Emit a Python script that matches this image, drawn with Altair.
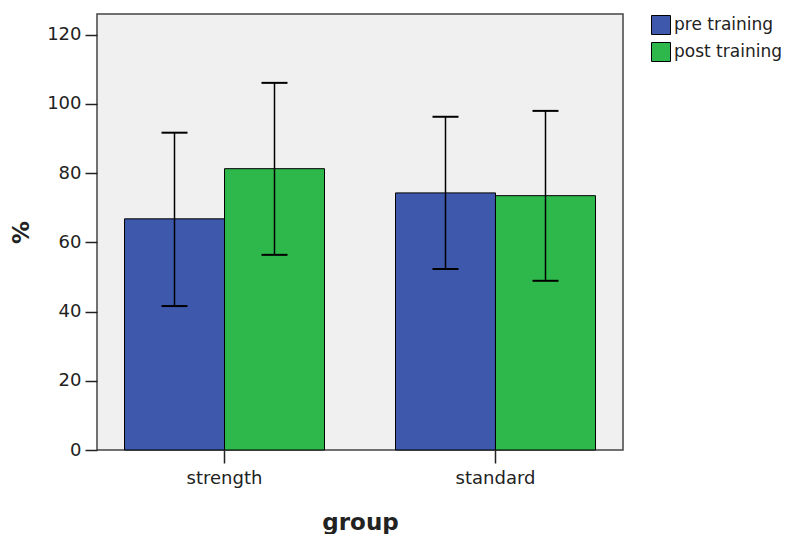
import altair as alt
import pandas as pd

groups = ["strength", "strength", "standard", "standard"]
series = ["pre training", "post training", "pre training", "post training"]
means = [66.8, 81.3, 74.3, 73.5]
lower = [41.6, 56.4, 52.3, 48.9]
upper = [91.7, 106.1, 96.3, 98.0]

group_order = ["strength", "standard"]
series_order = ["pre training", "post training"]
colors = ["#3e58ac", "#2eb84b"]

df = pd.DataFrame({"group": groups, "series": series, "mean": means,
                   "lower": lower, "upper": upper})

FONT = "DejaVu Sans"

x_enc = alt.X("group:N", sort=group_order,
              scale=alt.Scale(paddingInner=0.262, paddingOuter=0.1015),
              axis=alt.Axis(title="group", labelAngle=0, tickSize=13, labelPadding=6,
                            labelFontSize=18, labelFont=FONT, labelColor="#222",
                            titleFont=FONT, titleFontSize=23, titleFontWeight="bold",
                            titleColor="#222", titleY=79, titleBaseline="alphabetic",
                            domain=False, tickColor="#222", tickWidth=1.5))
xo_enc = alt.XOffset("series:N", sort=series_order,
                     scale=alt.Scale(paddingInner=0, paddingOuter=0))

y_scale = alt.Scale(domain=[0, 126], nice=False)

bars = alt.Chart(df).mark_bar(stroke="black", strokeWidth=1).encode(
    x=x_enc,
    xOffset=xo_enc,
    y=alt.Y("mean:Q", scale=y_scale,
            axis=alt.Axis(title="%", values=[0, 20, 40, 60, 80, 100, 120], grid=False,
                          tickSize=12, labelPadding=4, labelFontSize=18, labelFont=FONT,
                          labelColor="#222", titleFont=FONT, titleFontSize=23,
                          titleFontWeight="bold", titleColor="#222", titleX=-76,
                          titleY=218, titleAngle=-90, titleAlign="center",
                          titleBaseline="middle", domain=False, tickColor="#222",
                          tickWidth=1.5)),
    color=alt.Color("series:N", sort=series_order,
                    scale=alt.Scale(domain=series_order, range=colors),
                    legend=alt.Legend(title=None, orient="none", legendX=554, legendY=1,
                                      symbolType="square", symbolSize=361,
                                      symbolStrokeColor="black", symbolStrokeWidth=1,
                                      symbolOpacity=1, labelFont=FONT, labelFontSize=17,
                                      labelColor="#222", labelOffset=3, rowPadding=3)),
)

rules = alt.Chart(df).mark_rule(color="black", strokeWidth=1.5).encode(
    x=alt.X("group:N", sort=group_order), xOffset=alt.XOffset("series:N", sort=series_order),
    y=alt.Y("lower:Q", scale=y_scale), y2="upper:Q")

cap_lo = alt.Chart(df).mark_tick(color="black", size=26, thickness=2, opacity=1).encode(
    x=alt.X("group:N", sort=group_order), xOffset=alt.XOffset("series:N", sort=series_order),
    y=alt.Y("lower:Q", scale=y_scale))
cap_hi = alt.Chart(df).mark_tick(color="black", size=26, thickness=2, opacity=1).encode(
    x=alt.X("group:N", sort=group_order), xOffset=alt.XOffset("series:N", sort=series_order),
    y=alt.Y("upper:Q", scale=y_scale))

chart = alt.layer(bars, rules, cap_lo, cap_hi).properties(
    width=526, height=436,
    background="white",
    autosize=alt.AutoSizeParams(type="none"),
    padding={"left": 89, "top": 6, "right": 164, "bottom": 84},
).configure_view(
    fill="#f0f0f0", stroke="#444", strokeWidth=1.5
)

chart.save("out.html", embed_options={"renderer": "svg", "actions": False})
